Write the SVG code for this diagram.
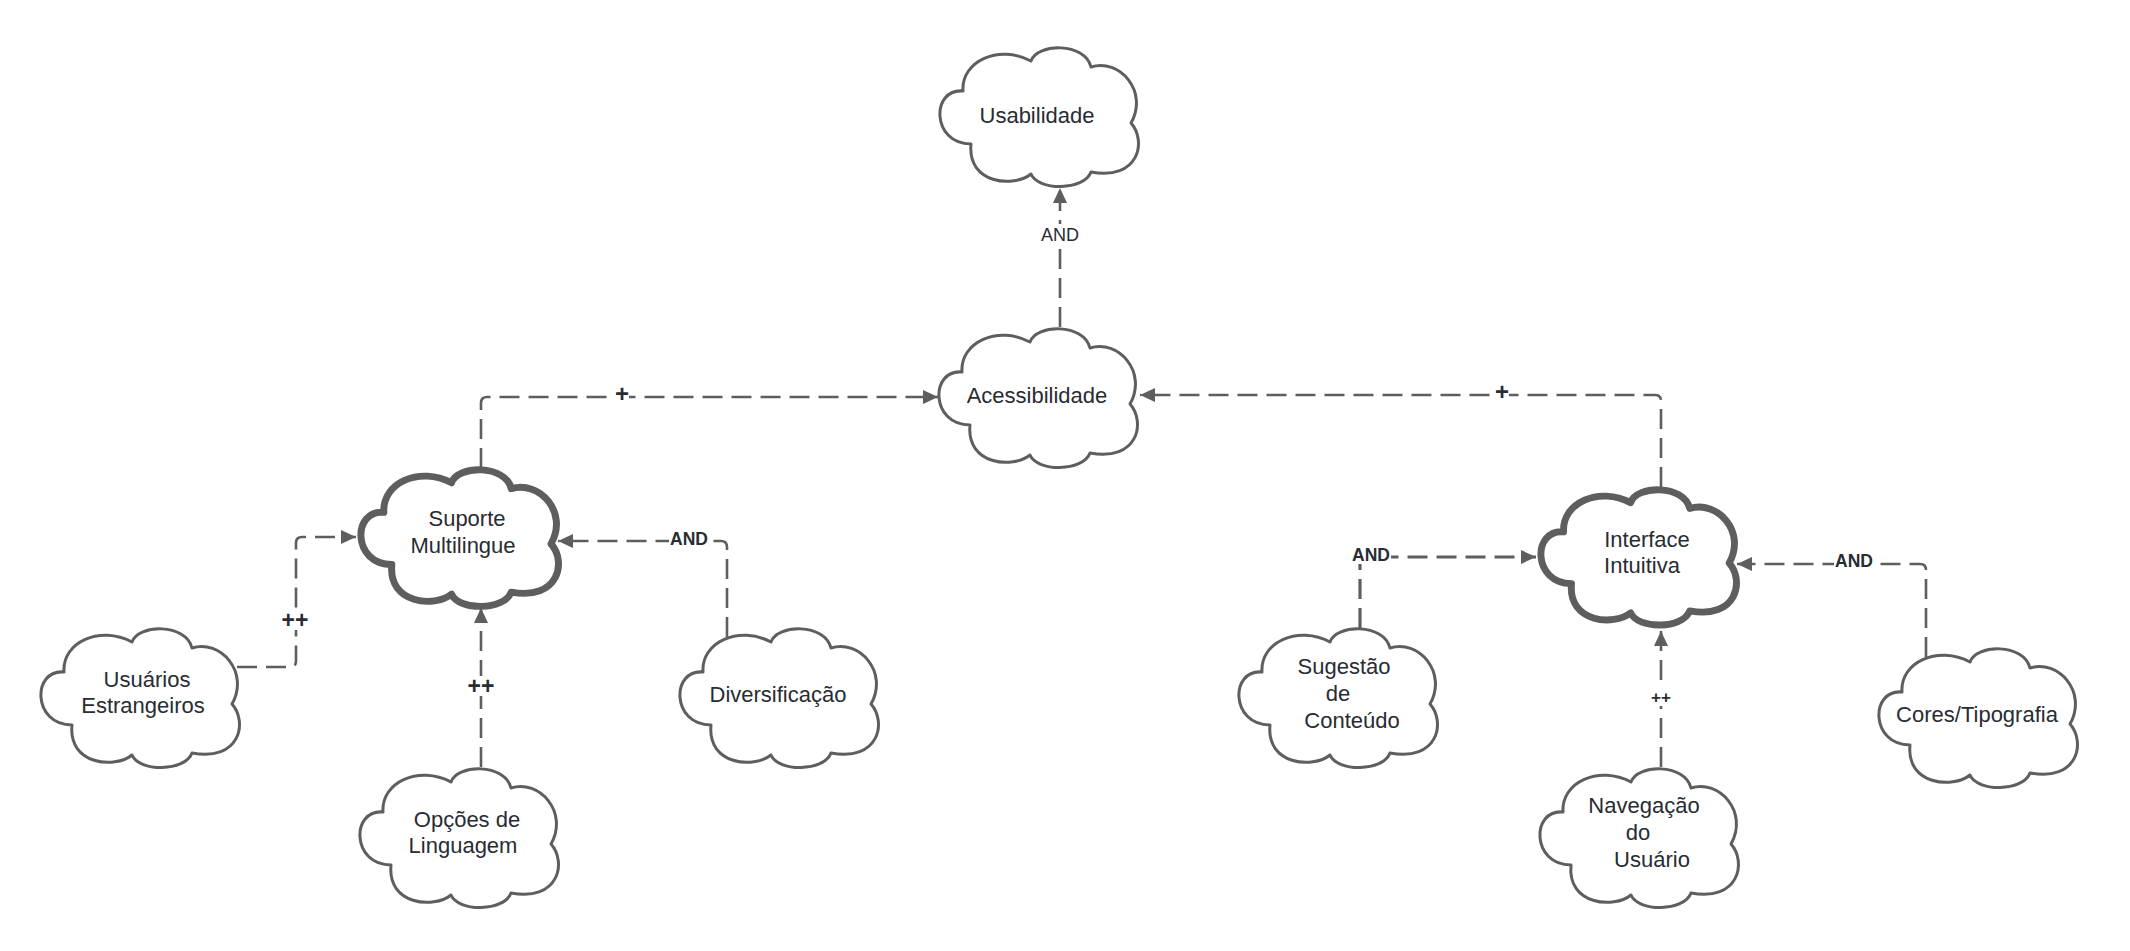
<svg xmlns="http://www.w3.org/2000/svg" width="2130" height="951" viewBox="0 0 2130 951">
<style>
.cloud{fill:#ffffff;stroke:#5e5e5e;stroke-width:3;stroke-linejoin:round}
.thick{stroke-width:7}
.lbl{font-family:"Liberation Sans",Arial,sans-serif;font-size:22px;fill:#282c33;text-anchor:middle}
.conn path{fill:none;stroke:#5e5e5e;stroke-width:2.6;stroke-dasharray:20 9}
.conn .bg{fill:#ffffff;stroke:none}
.ct{font-family:"Liberation Sans",Arial,sans-serif;fill:#282c33;text-anchor:middle;font-weight:bold}
</style>
<defs>
<path id="cloud" d="M24 45 C22 15 60 -2 92 15 C98 -3 146 -4 152 21 C180 12 210 45 192 77 C208 95 200 135 152 126 C145 145 99 145 92 128 C75 142 28 138 32 98 C-8 98 -8 42 24 45 Z"/>
<marker id="arr" markerUnits="userSpaceOnUse" markerWidth="16" markerHeight="14" refX="15" refY="7" orient="auto" viewBox="0 0 16 14">
<path d="M0 0 L15 7 L0 14 Z" fill="#5e5e5e"/>
</marker>
</defs>
<rect width="2130" height="951" fill="#ffffff"/>

<g id="connectors" class="conn">
<path d="M1060 327 V188" marker-end="url(#arr)"/>
<path d="M481 468 V403 Q481 397 487 397 H938" marker-end="url(#arr)"/>
<path d="M1661 487 V401 Q1661 395 1655 395 H1140" marker-end="url(#arr)"/>
<path d="M237 667 H290 Q296 667 296 661 V543 Q296 537 302 537 H356" marker-end="url(#arr)"/>
<path d="M481 767 V608" marker-end="url(#arr)"/>
<path d="M727 637 V547 Q727 541 721 541 H558" marker-end="url(#arr)"/>
<path d="M1360 628 V563 Q1360 557 1366 557 H1536" style="stroke-width:3.2" marker-end="url(#arr)"/>
<path d="M1661 767 V631" marker-end="url(#arr)"/>
<path d="M1926 657 V570 Q1926 564 1920 564 H1737" marker-end="url(#arr)"/>

<rect class="bg" x="1039" y="224" width="42" height="22"/>
<text x="1060" y="241" font-family="Liberation Sans, Arial, sans-serif" font-size="18" fill="#282c33" text-anchor="middle">AND</text>
<rect class="bg" x="615" y="386" width="14" height="16"/>
<text class="ct" x="622" y="402" font-size="24">+</text>
<rect class="bg" x="1495" y="384" width="14" height="16"/>
<text class="ct" x="1502" y="400" font-size="24">+</text>
<rect class="bg" x="280" y="610" width="30" height="20"/>
<text class="ct" x="295" y="628" font-size="23">++</text>
<rect class="bg" x="466" y="676" width="30" height="20"/>
<text class="ct" x="481" y="694" font-size="23">++</text>
<rect class="bg" x="1648" y="688" width="26" height="18"/>
<text class="ct" x="1661" y="703" font-size="17">++</text>
<rect class="bg" x="669" y="531" width="40" height="18"/>
<text class="ct" x="689" y="545" font-size="17.5">AND</text>
<rect class="bg" x="1351" y="546" width="40" height="18"/>
<text class="ct" x="1371" y="561" font-size="17.5">AND</text>
<rect class="bg" x="1834" y="553" width="40" height="18"/>
<text class="ct" x="1854" y="567" font-size="17.5">AND</text>
</g>

<g id="usabilidade">
<use href="#cloud" class="cloud" transform="translate(939 46)"/>
<text class="lbl" x="1037" y="123">Usabilidade</text>
</g>
<g id="acessibilidade">
<use href="#cloud" class="cloud" transform="translate(938 327)"/>
<text class="lbl" x="1037" y="403">Acessibilidade</text>
</g>
<g id="suporte-multilingue">
<use href="#cloud" class="cloud thick" transform="translate(360 468) scale(0.995 0.985)"/>
<text class="lbl" x="467" y="526">Suporte</text>
<text class="lbl" x="463" y="553">Multilingue</text>
</g>
<g id="usuarios-estrangeiros">
<use href="#cloud" class="cloud" transform="translate(40 627)"/>
<text class="lbl" x="147" y="687">Usuários</text>
<text class="lbl" x="143" y="713">Estrangeiros</text>
</g>
<g id="opcoes-de-linguagem">
<use href="#cloud" class="cloud" transform="translate(359 767)"/>
<text class="lbl" x="467" y="827">Opções de</text>
<text class="lbl" x="463" y="853">Linguagem</text>
</g>
<g id="diversificacao">
<use href="#cloud" class="cloud" transform="translate(679 627)"/>
<text class="lbl" x="778" y="702">Diversificação</text>
</g>
<g id="interface-intuitiva">
<use href="#cloud" class="cloud thick" transform="translate(1540 488) scale(0.985 0.975)"/>
<text class="lbl" x="1647" y="547">Interface</text>
<text class="lbl" x="1642" y="573">Intuitiva</text>
</g>
<g id="sugestao-de-conteudo">
<use href="#cloud" class="cloud" transform="translate(1238 627)"/>
<text class="lbl" x="1344" y="674">Sugestão</text>
<text class="lbl" x="1338" y="701">de</text>
<text class="lbl" x="1352" y="728">Conteúdo</text>
</g>
<g id="navegacao-do-usuario">
<use href="#cloud" class="cloud" transform="translate(1539 767)"/>
<text class="lbl" x="1644" y="813">Navegação</text>
<text class="lbl" x="1638" y="840">do</text>
<text class="lbl" x="1652" y="867">Usuário</text>
</g>
<g id="cores-tipografia">
<use href="#cloud" class="cloud" transform="translate(1878 647)"/>
<text class="lbl" x="1977" y="722">Cores/Tipografia</text>
</g>
</svg>
